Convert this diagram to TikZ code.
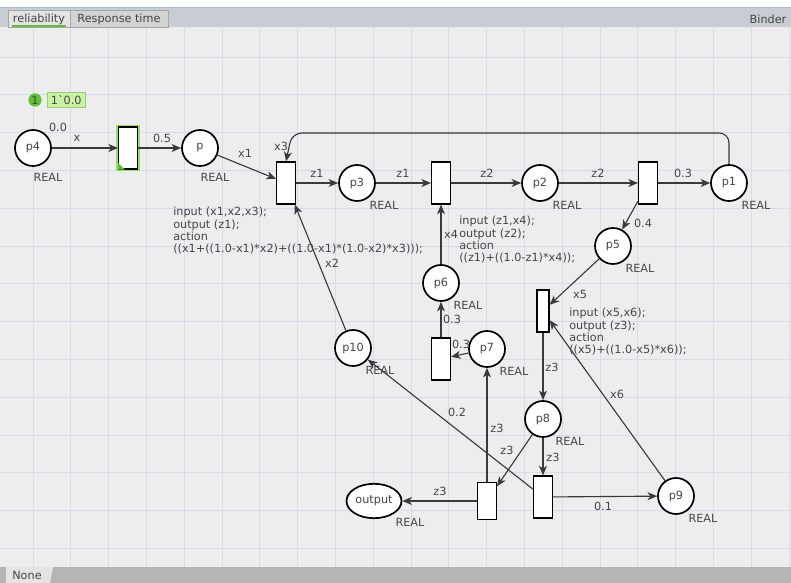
\documentclass[tikz,border=0pt]{standalone}
\usepackage{fontspec}
\setmainfont{DejaVu Sans}
\usetikzlibrary{positioning,arrows.meta,calc,shapes.geometric}

\definecolor{canvas}{HTML}{EDEDED}
\definecolor{gridline}{HTML}{D9D9F2}
\definecolor{tabbar}{HTML}{C8CDD3}
\definecolor{tabedge}{HTML}{A3BFDD}
\definecolor{tabon}{HTML}{E4E4E4}
\definecolor{taboff}{HTML}{D3D3D3}
\definecolor{botbar}{HTML}{B5B5B5}
\definecolor{inkgray}{HTML}{454545}
\definecolor{arcgray}{HTML}{3A3A3A}
\definecolor{tokgreen}{HTML}{5CC234}
\definecolor{tokfill}{HTML}{C9F2A4}
\definecolor{glowgreen}{HTML}{93E065}

\begin{document}
\begin{tikzpicture}[
  x=0.025cm, y=-0.025cm,
  font=\fontsize{8}{8.8}\selectfont,
  pnarc/.style={-{Stealth[length=2.4mm,width=2mm,inset=0.7mm]}, line width=0.8pt, draw=arcgray},
  placenode/.style={circle, draw=black, line width=1.2pt, fill=white, minimum size=0.9cm, inner sep=0pt, text=inkgray},
  outnode/.style={ellipse, draw=black, line width=1.2pt, fill=white, minimum width=1.375cm, minimum height=0.86cm, inner sep=0pt, text=inkgray},
  transbox/.style={rectangle, draw=black, line width=0.9pt, fill=white, minimum width=0.47cm, minimum height=1.05cm, inner sep=0pt},
  enabled/.style={preaction={draw=glowgreen, line width=3.5pt}},
  lbl/.style={text=inkgray, inner sep=0pt},
  typ/.style={text=inkgray, inner sep=0pt},
  guard/.style={text=inkgray, inner sep=0pt, align=left, anchor=north west},
  tab/.style={draw=gray!70, line width=0.4pt, minimum height=0.42cm, inner sep=0pt, text=inkgray, font=\fontsize{8}{9}\selectfont}
]
\useasboundingbox (0,0) rectangle (791,583);

% canvas and grid
\fill[canvas] (0,0) rectangle (791,583);
\foreach \gx in {33,70.8,...,791} \draw[gridline, line width=0.5pt] (\gx,27) -- (\gx,567);
\foreach \gy in {57,94.8,...,566} \draw[gridline, line width=0.5pt] (0,\gy) -- (791,\gy);

% tab bar
\fill[white] (0,0) rectangle (791,7);
\fill[tabbar] (0,7) rectangle (791,27);
\draw[tabedge, line width=1pt] (0,7.5) -- (791,7.5);
\node[tab, fill=tabon, minimum width=1.55cm] (tabrel) at (39,19) {reliability};
\node[tab, fill=taboff, minimum width=2.45cm] (tabresp) at (119,19) {Response time};
\draw[tokgreen, line width=1pt] ($(tabrel.south west)+(4,-1.5)$) -- ($(tabrel.south east)+(-4,-1.5)$);
\node[lbl, font=\fontsize{8}{9}\selectfont] (binder) at (768,19) {Binder};

% bottom bar
\fill[botbar] (0,567) rectangle (791,583);
\fill[tabon] (6,567) -- (53,567) -- (50,583) -- (6,583) -- cycle;
\node[lbl, font=\fontsize{8}{9}\selectfont] (none) at (27,575) {None};

% places
\node[placenode] (p4) at (33,148) {p4};
\node[placenode] (p) at (200,148) {p};
\node[placenode] (p3) at (357,183) {p3};
\node[placenode] (p2) at (540,183) {p2};
\node[placenode] (p1) at (729,183) {p1};
\node[placenode] (p5) at (613,246) {p5};
\node[placenode] (p6) at (441,283) {p6};
\node[placenode] (p7) at (487,349) {p7};
\node[placenode] (p10) at (353,348) {p10};
\node[placenode] (p8) at (543,419) {p8};
\node[placenode] (p9) at (676,496) {p9};
\node[outnode] (output) at (374,501) {output};

% transitions
\node[transbox, enabled] (t0) at (128,148) {};
\fill[tokgreen] (t0.south west) -- ++(7,0) -- ++(-7,-7) -- cycle;
\node[transbox] (t1) at (286,183) {};
\node[transbox] (t2) at (441,183) {};
\node[transbox] (t3) at (648,183) {};
\node[transbox, minimum width=0.3cm] (t4) at (543,311) {};
\node[transbox] (t7) at (441,359) {};
\node[transbox, minimum height=0.93cm] (t5) at (487,501) {};
\node[transbox] (t6) at (543,497) {};

% colour sets
\foreach \pl in {p3,p2,p1,p5,p6,p7,p8,p9,p10}
  \node[typ] (\pl-type) at ($(\pl)+(27,22)$) {REAL};
\node[typ] (p4-type) at ($(p4)+(15,29)$) {REAL};
\node[typ] (p-type) at ($(p)+(15,29)$) {REAL};
\node[typ] (output-type) at ($(output)+(36,21)$) {REAL};

% marking of p4
\node[circle, fill=tokgreen, minimum size=0.33cm, inner sep=0pt, text=inkgray] (tok) at (35,100) {1};
\node[rectangle, fill=tokfill, draw=tokgreen!70, line width=0.5pt, minimum width=0.95cm, minimum height=0.38cm, inner sep=0pt, text=inkgray, right=3.6pt of tok] (tokval) {1\textasciigrave0.0};
\node[lbl] (init) at (58,127) {0.0};

% arcs
\draw[pnarc] (p4) -- (t0);
\draw[pnarc] (t0) -- (p);
\draw[pnarc] (p) -- (t1);
\draw[pnarc] (t1) -- (p3);
\draw[pnarc] (p3) -- (t2);
\draw[pnarc] (t2) -- (p2);
\draw[pnarc] (p2) -- (t3);
\draw[pnarc] (t3) -- (p1);
\coordinate (bend) at (292,133);
\draw[pnarc, rounded corners=7pt] (p1.north) |- (bend) -- (t1.north);
\draw[pnarc] (t3) -- (p5);
\draw[pnarc] (p5) -- (t4);
\draw[pnarc] (p9) -- (t4);
\draw[pnarc] (t4) -- (p8);
\draw[pnarc] (p8) -- (t6);
\draw[pnarc] (p8) -- (t5);
\draw[pnarc] (t5) -- (output);
\draw[pnarc] (t5) -- (p7);
\draw[pnarc] (p7) -- (t7);
\draw[pnarc] (t7) -- (p6);
\draw[pnarc] (p6) -- (t2);
\draw[pnarc] (p10) -- (t1);
\draw[pnarc] (t6) -- (p10);
\draw[pnarc] (t6) -- (p9);

% arc inscriptions
\node[lbl] (ix) at (77,138) {x};
\node[lbl] (ihalf) at (162,138) {0.5};
\node[lbl] (ixone) at (245,153) {x1};
\node[lbl] (ixthree) at (281,146) {x3};
\node[lbl] (izone) at (317,173) {z1};
\node[lbl] (izonetwo) at (403,173) {z1};
\node[lbl] (iztwo) at (487,173) {z2};
\node[lbl] (iztwotwo) at (598,173) {z2};
\node[lbl] (ipone) at (683,173) {0.3};
\node[lbl] (ipfive) at (643,223) {0.4};
\node[lbl] (ixfive) at (580,294) {x5};
\node[lbl] (ixsix) at (617,394) {x6};
\node[lbl] (izthree) at (552,367) {z3};
\node[lbl] (izsix) at (553,457) {z3};
\node[lbl] (izfive) at (507,450) {z3};
\node[lbl] (izout) at (440,491) {z3};
\node[lbl] (izseven) at (497,428) {z3};
\node[lbl] (ipseven) at (461,344) {0.3};
\node[lbl] (ipsix) at (452,319) {0.3};
\node[lbl] (ixfour) at (451,234) {x4};
\node[lbl] (ixtwo) at (332,263) {x2};
\node[lbl] (ipten) at (457,412) {0.2};
\node[lbl] (ipnine) at (603,506) {0.1};

% code segments
\node[guard] (t1code) at (173,207) {input (x1,x2,x3);\\output (z1);\\action\\((x1+((1.0-x1)*x2)+((1.0-x1)*(1.0-x2)*x3)));};
\node[guard] (t2code) at (459,216) {input (z1,x4);\\output (z2);\\action\\((z1)+((1.0-z1)*x4));};
\node[guard] (t4code) at (569,308) {input (x5,x6);\\output (z3);\\action\\((x5)+((1.0-x5)*x6));};

\end{tikzpicture}
\end{document}
